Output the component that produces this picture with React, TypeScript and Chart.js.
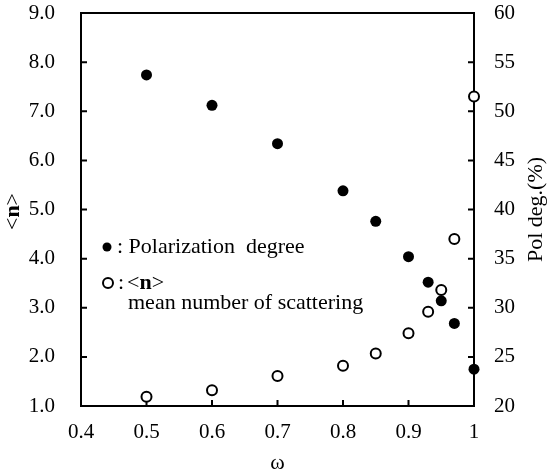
import React, { useEffect, useRef } from 'react';
import Chart from 'chart.js/auto';

// scattering albedo
const omega = [0.5, 0.6, 0.7, 0.8, 0.85, 0.9, 0.93, 0.95, 0.97, 1.0];
// polarization degree (%), right axis
const polDeg = [53.7, 50.6, 46.7, 41.9, 38.8, 35.2, 32.6, 30.7, 28.4, 23.75];
// <n> mean number of scattering, left axis
const meanN = [1.19, 1.32, 1.61, 1.82, 2.07, 2.48, 2.92, 3.36, 4.4, 7.3];

const SERIF = '"Liberation Serif", "Times New Roman", serif';
const TICK = 6;

const framePlugin = {
  id: 'frame',
  beforeDatasetsDraw(chart: any) {
    const { ctx, chartArea: a, scales } = chart;
    ctx.save();
    ctx.strokeStyle = '#000';
    ctx.lineWidth = 2;
    ctx.strokeRect(a.left, a.top, a.right - a.left, a.bottom - a.top);
    ctx.beginPath();
    scales.x.ticks.forEach((t: any) => {
      const px = scales.x.getPixelForValue(t.value);
      ctx.moveTo(px, a.bottom);
      ctx.lineTo(px, a.bottom - TICK);
    });
    scales.y.ticks.forEach((t: any) => {
      const py = scales.y.getPixelForValue(t.value);
      ctx.moveTo(a.left, py);
      ctx.lineTo(a.left + TICK, py);
    });
    scales.y2.ticks.forEach((t: any) => {
      const py = scales.y2.getPixelForValue(t.value);
      ctx.moveTo(a.right, py);
      ctx.lineTo(a.right - TICK, py);
    });
    ctx.stroke();
    ctx.restore();
  },
  afterDraw(chart: any) {
    const { ctx, chartArea: a } = chart;
    const normal = `22px ${SERIF}`;
    const bold = `bold 22px ${SERIF}`;
    ctx.save();
    ctx.fillStyle = '#000';
    ctx.textBaseline = 'middle';

    // x title
    ctx.font = normal;
    ctx.textAlign = 'center';
    ctx.fillText('ω', (a.left + a.right) / 2, 463);

    // "<n>" helper
    const drawN = (x: number, y: number, align: 'left' | 'center') => {
      ctx.font = normal;
      const wl = ctx.measureText('<').width;
      const wr = ctx.measureText('>').width;
      ctx.font = bold;
      const wn = ctx.measureText('n').width;
      let sx = align === 'center' ? x - (wl + wn + wr) / 2 : x;
      ctx.textAlign = 'left';
      ctx.font = normal;
      ctx.fillText('<', sx, y);
      ctx.font = bold;
      ctx.fillText('n', sx + wl, y);
      ctx.font = normal;
      ctx.fillText('>', sx + wl + wn, y);
    };

    // left title
    ctx.save();
    ctx.translate(13, (a.top + a.bottom) / 2 + 2);
    ctx.rotate(-Math.PI / 2);
    drawN(0, 0, 'center');
    ctx.restore();

    // right title
    ctx.save();
    ctx.translate(536, (a.top + a.bottom) / 2);
    ctx.rotate(-Math.PI / 2);
    ctx.font = normal;
    ctx.textAlign = 'center';
    ctx.fillText('Pol deg.(%)', 0, 0);
    ctx.restore();

    // legend
    ctx.beginPath();
    ctx.arc(107, 247, 4.5, 0, Math.PI * 2);
    ctx.fill();
    ctx.font = normal;
    ctx.textAlign = 'left';
    ctx.fillText(': Polarization  degree', 117, 247);

    ctx.beginPath();
    ctx.arc(108, 283, 5, 0, Math.PI * 2);
    ctx.fillStyle = '#fff';
    ctx.fill();
    ctx.strokeStyle = '#000';
    ctx.lineWidth = 2;
    ctx.stroke();
    ctx.fillStyle = '#000';
    ctx.font = normal;
    ctx.fillText(':', 118, 283);
    drawN(127, 283, 'left');
    ctx.font = normal;
    ctx.fillText('mean number of scattering', 128, 303);
    ctx.restore();
  },
};

const App: React.FC = () => {
  const canvasRef = useRef<HTMLCanvasElement>(null);
  const chartRef = useRef<Chart | null>(null);

  useEffect(() => {
    document.body.style.margin = '0';
    if (!canvasRef.current) return;
    if (chartRef.current) chartRef.current.destroy();
    const ctx = canvasRef.current.getContext('2d');
    if (!ctx) return;

    const tickFont = { family: SERIF, size: 21, lineHeight: 1 };

    chartRef.current = new Chart(ctx, {
      type: 'scatter',
      data: {
        datasets: [
          {
            label: 'Polarization degree',
            data: omega.map((x, i) => ({ x, y: polDeg[i] })),
            yAxisID: 'y2',
            pointRadius: 5.5,
            pointBackgroundColor: '#000',
            pointBorderColor: '#000',
            pointBorderWidth: 0,
            clip: false,
          },
          {
            label: '<n> mean number of scattering',
            data: omega.map((x, i) => ({ x, y: meanN[i] })),
            yAxisID: 'y',
            pointRadius: 5,
            pointBackgroundColor: '#fff',
            pointBorderColor: '#000',
            pointBorderWidth: 2,
            clip: false,
          },
        ],
      },
      options: {
        responsive: false,
        animation: false,
        layout: { autoPadding: false, padding: { top: 13, left: 0, right: 0, bottom: 0 } },
        plugins: {
          legend: { display: false },
          tooltip: { enabled: false },
        },
        scales: {
          x: {
            type: 'linear',
            min: 0.4,
            max: 1.0,
            grid: { display: false, drawTicks: false },
            border: { display: false },
            ticks: {
              stepSize: 0.1,
              color: '#000',
              font: tickFont,
              padding: 16,
              callback: (v: any) => (Math.abs(v - 1) < 1e-9 ? '1' : Number(v).toFixed(1)),
            },
            afterFit: (s: any) => {
              s.height = 70;
              s.paddingLeft = 0;
              s.paddingRight = 0;
            },
          },
          y: {
            type: 'linear',
            position: 'left',
            min: 1,
            max: 9,
            grid: { display: false, drawTicks: false },
            border: { display: false },
            ticks: {
              stepSize: 1,
              color: '#000',
              font: tickFont,
              padding: 26,
              callback: (v: any) => Number(v).toFixed(1),
            },
            afterFit: (s: any) => {
              s.width = 81;
              s.paddingTop = 0;
              s.paddingBottom = 0;
            },
          },
          y2: {
            type: 'linear',
            position: 'right',
            min: 20,
            max: 60,
            grid: { display: false, drawTicks: false },
            border: { display: false },
            ticks: {
              stepSize: 5,
              color: '#000',
              font: tickFont,
              padding: 20,
            },
            afterFit: (s: any) => {
              s.width = 76;
              s.paddingTop = 0;
              s.paddingBottom = 0;
            },
          },
        },
      },
      plugins: [framePlugin],
    });

    return () => {
      if (chartRef.current) {
        chartRef.current.destroy();
        chartRef.current = null;
      }
    };
  }, []);

  return (
    <div style={{ width: 550, height: 476, background: '#fff' }}>
      <canvas ref={canvasRef} width={550} height={476}></canvas>
    </div>
  );
};

export default App;
